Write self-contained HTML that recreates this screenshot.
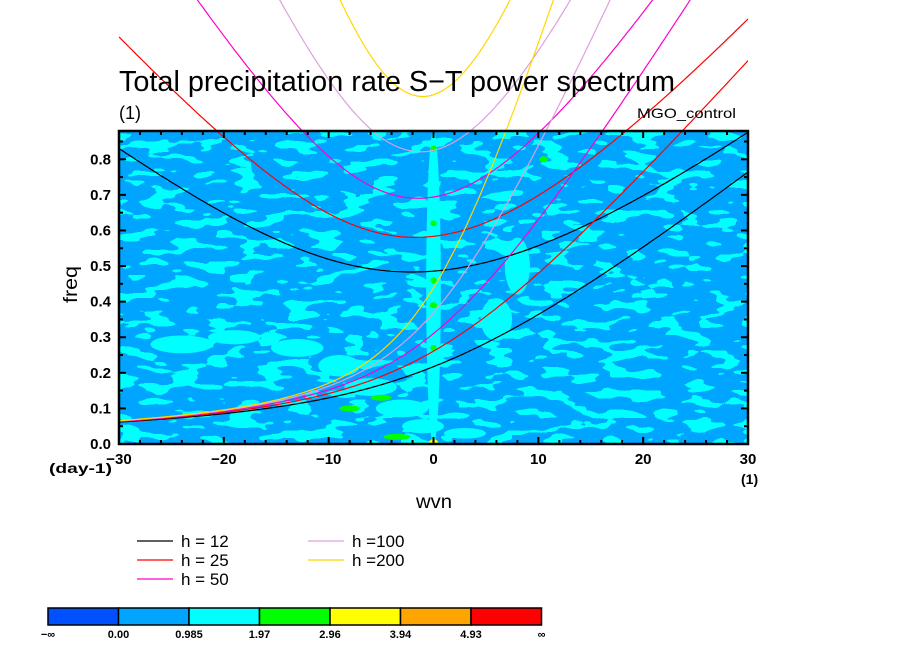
<!DOCTYPE html>
<html><head><meta charset="utf-8"><style>
html,body{margin:0;padding:0;background:#fff;}
svg{display:block;font-family:"Liberation Sans",sans-serif;}
</style></head><body>
<svg id="chart" width="904" height="654" viewBox="0 0 904 654">
<defs>
<filter id="noise" filterUnits="userSpaceOnUse" x="119" y="131" width="629" height="313">
<feTurbulence type="fractalNoise" baseFrequency="0.035 0.1" numOctaves="2" seed="7"/>
<feColorMatrix type="matrix" values="0 0 0 0 0  0 0 0 0 1  0 0 0 0 1  1 0 0 0 0"/>
<feComponentTransfer><feFuncA type="discrete" tableValues="0 0 0 0 0 0 0 0 0 0 0 0 0 0 0 0 0 0 0 0 0 0 0 1 1 1 1 1 1 1 1 1 1 1 1 1 1 1 1 1"/></feComponentTransfer>
</filter>
<clipPath id="plotclip"><rect x="119" y="131" width="629" height="313"/></clipPath>
<clipPath id="xclip"><rect x="119" y="0" width="629" height="444"/></clipPath>
</defs>
<g>
<rect x="119" y="131" width="629" height="313" fill="#00a5ff"/>
<rect x="119" y="131" width="629" height="313" fill="#000" filter="url(#noise)"/>
<g id="blobs" clip-path="url(#plotclip)"></g>
</g>
<g id="curves" clip-path="url(#xclip)"></g>
<g id="axes"></g>
<text x="119" y="91" font-size="29" textLength="556" lengthAdjust="spacingAndGlyphs">Total precipitation rate S−T power spectrum</text>
<text x="119" y="119" font-size="18">(1)</text>
<text x="637" y="118" font-size="14" textLength="99" lengthAdjust="spacingAndGlyphs">MGO_control</text>
<text x="416" y="508" font-size="19" textLength="36" lengthAdjust="spacingAndGlyphs">wvn</text>
<text transform="translate(77,303) rotate(-90)" font-size="19" textLength="37" lengthAdjust="spacingAndGlyphs">freq</text>
<text x="49" y="473" font-size="14" font-weight="bold" textLength="63" lengthAdjust="spacingAndGlyphs">(day-1)</text>
<text x="741" y="484" font-size="14" font-weight="bold">(1)</text>
<g id="legend"></g>
<g id="colorbar"></g>
</svg>
<script>
const hValues=[12,25,50,100,200];
const hColors=['#000000','#ff0000','#ff00c8','#dda0dd','#ffd700'];
const xTicks=[-30,-20,-10,0,10,20,30];
const yTicks=[0.0,0.1,0.2,0.3,0.4,0.5,0.6,0.7,0.8];
const cbLabels=['−∞','0.00','0.985','1.97','2.96','3.94','4.93','∞'];
const cbColors=['#0050ff','#00a5ff','#00ffff','#00ff00','#ffff00','#ffa500','#ff0000'];
const cyanW=[0,-24,-19,-13,-9,-6,-3,-1,3,6,8];
const cyanF=[0.44,0.28,0.3,0.27,0.22,0.16,0.1,0.05,0.03,0.35,0.5];
const cyanRW=[0.7,3,2.5,2.5,2,2.5,2.5,2,2,1.5,1.2];
const cyanRF=[0.44,0.025,0.02,0.025,0.03,0.025,0.025,0.02,0.015,0.06,0.08];
const greenW=[-5,-8,-3.5,0,0,0,0,0,10.5];
const greenF=[0.13,0.1,0.02,0.62,0.46,0.39,0.27,0.83,0.8];
const greenR=[1,1,1.3,0.3,0.3,0.35,0.3,0.3,0.4];
const X0=119,X1=748,Y0=444,Y1=131,FMAX=0.8795;
const xs=w=>X0+(w+30)/60*(X1-X0);
const ys=f=>Y0-f/FMAX*(Y0-Y1);
const NS='http://www.w3.org/2000/svg';
function mk(tag,attrs,parent){const e=document.createElementNS(NS,tag);for(const k in attrs)e.setAttribute(k,attrs[k]);parent.appendChild(e);return e;}
const blobs=document.getElementById('blobs');
for(let i=0;i<cyanW.length;i++){
 const e=mk('ellipse',{cx:xs(cyanW[i]),cy:ys(cyanF[i]),rx:cyanRW[i]/60*(X1-X0),ry:cyanRF[i]/FMAX*(Y0-Y1),fill:'#00ffff'},blobs);
 
 
}
for(let i=0;i<greenW.length;i++){
 const e=mk('ellipse',{cx:xs(greenW[i]),cy:ys(greenF[i]),rx:greenR[i]/60*(X1-X0),ry:3,fill:'#00ff00'},blobs);
 
 
}
const pk=mk('ellipse',{cx:xs(0),cy:ys(0),rx:5,ry:5,fill:'#ffff00'},blobs);


const beta=2.3e-11,R=6.371e6,g=9.81,cpd=86400/(2*Math.PI);
const curves=document.getElementById('curves');
function igRoot(k,c,n){const a=k*k*c*c+(2*n+1)*beta*c,b=beta*k*c*c;let w=Math.sqrt(a)+1e-6;for(let i=0;i<50;i++){w-= (w*w*w-a*w-b)/(3*w*w-a);}return w;}
hValues.forEach((h,i)=>{
 const c=Math.sqrt(g*h);
 let p0=[],p2=[];
 for(let wv=-30;wv<=30.001;wv+=0.25){
  const k=wv/R;
  const w0=k*c/2+Math.sqrt(k*k*c*c/4+beta*c);
  p0.push(xs(wv).toFixed(1)+','+ys(w0*cpd).toFixed(1));
  p2.push(xs(wv).toFixed(1)+','+ys(igRoot(k,c,2)*cpd).toFixed(1));
 }
 const l0=mk('polyline',{points:p0.join(' '),fill:'none',stroke:hColors[i],'stroke-width':1.2},curves);
 
 
 const l2=mk('polyline',{points:p2.join(' '),fill:'none',stroke:hColors[i],'stroke-width':1.2},curves);
 
 
});
const axes=document.getElementById('axes');
const fr=mk('rect',{x:X0,y:Y1,width:X1-X0,height:Y0-Y1,fill:'none',stroke:'#000','stroke-width':2.5},axes);


for(let w=-30;w<=30;w+=2){
 const maj=w%10===0,L=maj?7:4;
 mk('line',{x1:xs(w),x2:xs(w),y1:Y0,y2:Y0-L,stroke:'#000','stroke-width':2},axes);
 mk('line',{x1:xs(w),x2:xs(w),y1:Y1,y2:Y1+L,stroke:'#000','stroke-width':2},axes);
}
for(let f=0;f<=0.86;f+=0.05){
 const maj=Math.round(f*100)%10===0,L=maj?7:4;
 mk('line',{x1:X0,x2:X0+L,y1:ys(f),y2:ys(f),stroke:'#000','stroke-width':2},axes);
 mk('line',{x1:X1,x2:X1-L,y1:ys(f),y2:ys(f),stroke:'#000','stroke-width':2},axes);
}
xTicks.forEach(w=>{
 const t=mk('text',{x:xs(w),y:Y0+20,'font-size':15,'font-weight':'bold','text-anchor':'middle'},axes);
 t.textContent=(w<0?'−':'')+Math.abs(w);
 
 
});
yTicks.forEach(f=>{
 const t=mk('text',{x:111,y:ys(f)+5,'font-size':15,'font-weight':'bold','text-anchor':'end'},axes);
 t.textContent=f.toFixed(1);
 
 
});
const leg=document.getElementById('legend');
const lx=[137,137,137,308,308],ly=[541,560,579,541,560];
hValues.forEach((h,i)=>{
 mk('line',{x1:lx[i],x2:lx[i]+36,y1:ly[i],y2:ly[i],stroke:hColors[i],'stroke-width':1.3},leg);
 const t=mk('text',{x:lx[i]+44,y:ly[i]+6,'font-size':17,'xml:space':'preserve'},leg);
 t.textContent=h<100?'h = '+h:'h ='+h;
 
 
});
const cb=document.getElementById('colorbar');
const cbx0=48,cbw=70.5;
cbColors.forEach((c,i)=>{
 const r=mk('rect',{x:cbx0+i*cbw,y:608,width:cbw,height:17,fill:c,stroke:'#000','stroke-width':1.5},cb);
 
 
});
cbLabels.forEach((s,i)=>{
 const t=mk('text',{x:cbx0+i*cbw,y:638,'font-size':11,'font-weight':'bold','text-anchor':'middle'},cb);
 t.textContent=s;
 
 
});
</script>
</body></html>
